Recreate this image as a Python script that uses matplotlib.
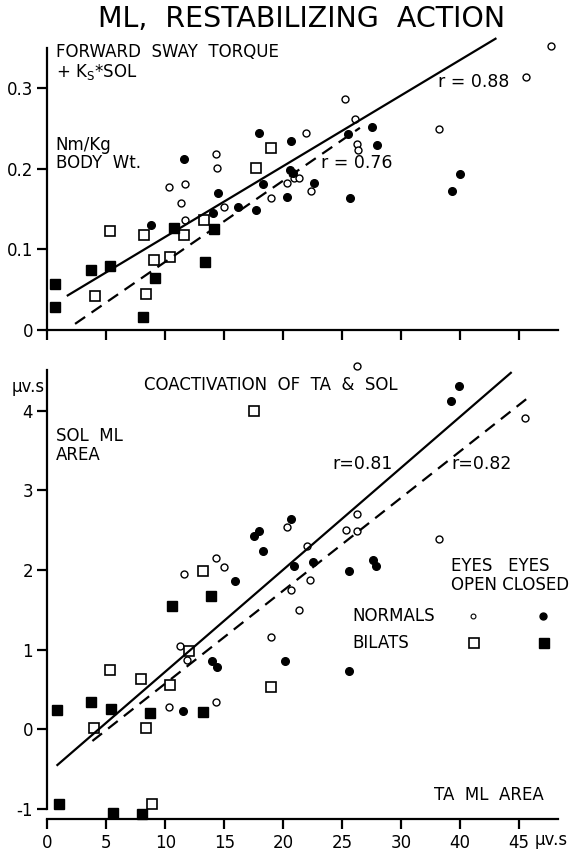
import matplotlib.pyplot as plt
import numpy as np

# ---- data (x in tick-position units) ----
xtick_pos = [0, 5, 10, 15, 20, 25, 30, 35, 40]
xtick_lab = ['0', '5', '10', '15', '20', '25', '30', '40', '45']

# top panel: forward sway torque + Ks*SOL  (Nm/Kg body wt.)
top_nrm_open_x = [10.33, 11.67, 11.36, 11.67, 14.32, 14.35, 14.95, 19.0, 20.28, 20.87, 21.37,
                  21.93, 22.37, 25.27, 26.1, 26.27, 26.33, 33.23, 40.56, 42.75]
top_nrm_open_y = [0.178, 0.181, 0.157, 0.136, 0.218, 0.201, 0.152, 0.164, 0.182, 0.188, 0.188,
                  0.245, 0.173, 0.287, 0.262, 0.231, 0.223, 0.250, 0.314, 0.352]
top_nrm_closed_x = [8.77, 11.6, 14.0, 14.45, 16.13, 17.72, 17.97, 18.25, 20.34, 20.62, 20.56,
                    20.8, 22.6, 25.5, 25.7, 27.55, 27.99, 34.3, 34.95]
top_nrm_closed_y = [0.130, 0.212, 0.145, 0.170, 0.152, 0.149, 0.244, 0.181, 0.165, 0.235, 0.198,
                    0.195, 0.183, 0.243, 0.164, 0.252, 0.230, 0.172, 0.194]
top_bil_open_x = [4.02, 5.34, 8.17, 8.36, 9.05, 10.42, 11.6, 13.26, 17.69, 19.0]
top_bil_open_y = [0.042, 0.123, 0.118, 0.045, 0.087, 0.091, 0.118, 0.137, 0.201, 0.226]
top_bil_closed_x = [0.62, 0.62, 3.71, 5.34, 8.08, 9.11, 10.73, 13.39, 14.1]
top_bil_closed_y = [0.057, 0.028, 0.075, 0.080, 0.016, 0.065, 0.126, 0.084, 0.125]
# regression lines: slope, intercept, x start, x end
top_fit_solid = [0.00878, 0.0278, 1.72, 38.0]
top_fit_dash = [0.01007, -0.016, 2.34, 26.5]

# bottom panel: coactivation of TA & SOL (uv.s)
bot_nrm_open_x = [10.27, 11.26, 11.61, 11.83, 14.29, 14.32, 14.95, 18.94, 20.31, 20.62, 21.31,
                  21.97, 22.28, 25.34, 26.27, 26.27, 26.27, 33.23, 40.53]
bot_nrm_open_y = [0.285, 1.048, 1.949, 0.868, 2.146, 0.348, 2.041, 1.161, 2.536, 1.748, 1.496,
                  2.305, 1.873, 2.502, 2.699, 2.494, 4.556, 2.393, 3.906]
bot_nrm_closed_x = [11.51, 13.95, 14.38, 15.94, 17.5, 17.97, 18.28, 20.12, 20.62, 20.87, 22.53,
                    25.55, 25.55, 27.58, 27.83, 34.2, 34.91]
bot_nrm_closed_y = [0.230, 0.851, 0.784, 1.865, 2.431, 2.494, 2.242, 0.851, 2.640, 2.054, 2.104,
                    1.982, 0.733, 2.129, 2.049, 4.120, 4.304]
bot_bil_open_x = [3.96, 5.27, 7.93, 8.33, 8.86, 10.36, 12.04, 13.2, 17.53, 19.0]
bot_bil_open_y = [0.013, 0.742, 0.629, 0.013, -0.943, 0.557, 0.985, 1.99, 3.99, 0.536]
bot_bil_closed_x = [0.84, 0.94, 3.65, 5.37, 5.59, 8.02, 8.7, 10.58, 13.2, 13.88]
bot_bil_closed_y = [0.239, -0.943, 0.348, 0.251, -1.048, -1.06, 0.201, 1.551, 0.222, 1.676]
bot_fit_solid = [0.128, -0.556, 0.84, 39.3]
bot_fit_dash = [0.1166, -0.591, 3.81, 40.8]

plt.rcParams['font.family'] = 'DejaVu Sans'
fig = plt.figure(figsize=(5.79, 8.5), dpi=100)
ax1 = fig.add_axes([0.082, 0.6118, 0.8817, 0.3318])
ax2 = fig.add_axes([0.082, 0.0365, 0.8817, 0.5282])

open_c = dict(ls='none', marker='o', ms=5, mfc='white', mec='black', mew=1.0, clip_on=False)
fill_c = dict(ls='none', marker='o', ms=5.5, mfc='black', mec='black', clip_on=False)
open_s = dict(ls='none', marker='s', ms=7, mfc='white', mec='black', mew=1.2, clip_on=False)
fill_s = dict(ls='none', marker='s', ms=7.5, mfc='black', mec='black', clip_on=False)
fs = 12


def fit_line(ax, p, **kw):
    xs = np.array([p[2], p[3]])
    ax.plot(xs, p[0] * xs + p[1], color='black', lw=1.6, clip_on=False, **kw)


for ax in (ax1, ax2):
    ax.spines['top'].set_visible(False)
    ax.spines['right'].set_visible(False)
    ax.spines['left'].set_linewidth(1.6)
    ax.spines['bottom'].set_linewidth(1.6)
    ax.set_xlim(0, 43.3)
    ax.set_xticks(xtick_pos)
    ax.tick_params(direction='out', length=7, width=1.6, labelsize=12)

# ---- top panel ----
ax1.plot(top_nrm_open_x, top_nrm_open_y, **open_c)
ax1.plot(top_nrm_closed_x, top_nrm_closed_y, **fill_c)
ax1.plot(top_bil_open_x, top_bil_open_y, **open_s)
ax1.plot(top_bil_closed_x, top_bil_closed_y, **fill_s)
fit_line(ax1, top_fit_solid)
fit_line(ax1, top_fit_dash, ls=(0, (5.5, 3.5)))
ax1.set_ylim(0, 0.35)
ax1.set_yticks([0, 0.1, 0.2, 0.3])
ax1.set_yticklabels(['0', '0.1', '0.2', '0.3'])
ax1.set_xticklabels([])
ax1.text(0.7, 0.345, 'FORWARD  SWAY  TORQUE', fontsize=fs, va='center')
ax1.text(0.7, 0.320, r'+ K$_\mathrm{S}$*SOL', fontsize=fs, va='center')
ax1.text(0.7, 0.230, 'Nm/Kg', fontsize=fs, va='center')
ax1.text(0.7, 0.207, 'BODY  Wt.', fontsize=fs, va='center')
ax1.text(33.1, 0.3075, 'r = 0.88', fontsize=12.5, va='center')
ax1.text(23.2, 0.2075, 'r = 0.76', fontsize=12.5, va='center')
fig.text(0.52, 0.9775, 'ML,  RESTABILIZING  ACTION', fontsize=20.5, ha='center', va='center')

# ---- bottom panel ----
ax2.plot(bot_nrm_open_x, bot_nrm_open_y, **open_c)
ax2.plot(bot_nrm_closed_x, bot_nrm_closed_y, **fill_c)
ax2.plot(bot_bil_open_x, bot_bil_open_y, **open_s)
ax2.plot(bot_bil_closed_x, bot_bil_closed_y, **fill_s)
fit_line(ax2, bot_fit_solid)
fit_line(ax2, bot_fit_dash, ls=(0, (5.5, 3.5)))
ax2.set_ylim(-1.126, 4.51)
ax2.spines['left'].set_bounds(-1, 4.51)
ax2.set_yticks([-1, 0, 1, 2, 3, 4])
ax2.set_yticklabels(['-1', '0', '1', '2', '3', '4'])
ax2.set_xticklabels(xtick_lab)
ax2.text(41.3, -1.126 - 0.27, 'μv.s', fontsize=12, va='center', ha='left')
ax2.text(-0.2, 4.30, 'μv.s', fontsize=fs, va='center', ha='right')
ax2.text(8.2, 4.325, 'COACTIVATION  OF  TA  &  SOL', fontsize=fs, va='center')
ax2.text(0.75, 3.676, 'SOL  ML', fontsize=fs, va='center')
ax2.text(0.75, 3.445, 'AREA', fontsize=fs, va='center')
ax2.text(24.2, 3.324, 'r=0.81', fontsize=12.5, va='center')
ax2.text(34.3, 3.324, 'r=0.82', fontsize=12.5, va='center')
ax2.text(34.2, 2.054, 'EYES   EYES', fontsize=fs, va='center')
ax2.text(34.2, 1.810, 'OPEN CLOSED', fontsize=fs, va='center')
ax2.text(25.9, 1.425, 'NORMALS', fontsize=fs, va='center')
ax2.text(25.9, 1.077, 'BILATS', fontsize=fs, va='center')
ax2.text(32.8, -0.826, 'TA  ML  AREA', fontsize=fs, va='center')
# legend key
ax2.plot([36.1], [1.425], ls='none', marker='o', ms=3.5, mfc='white', mec='black', mew=0.8)
ax2.plot([42.0], [1.425], ls='none', marker='o', ms=5, color='black', clip_on=False)
ax2.plot([36.2], [1.077], **open_s)
ax2.plot([42.1], [1.077], **fill_s)

fig.savefig('out.png', dpi=100)
